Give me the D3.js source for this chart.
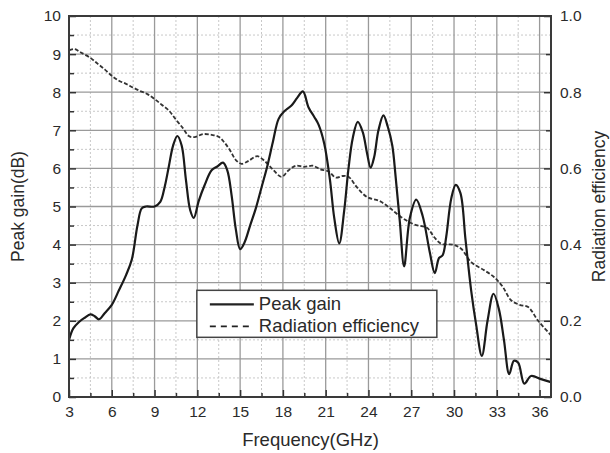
<!DOCTYPE html>
<html>
<head>
<meta charset="utf-8">
<script src="https://cdn.jsdelivr.net/npm/d3@7"></script>
<style>
body{margin:0;background:#fff;}
text{font-family:"Liberation Sans",Arial,sans-serif;fill:#2a2a2a;}
</style>
</head>
<body>
<svg id="chart"></svg>
<script>
// peak gain (dB) vs frequency (GHz)
var gainFreq = [3.0,3.3,3.7,4.1,4.5,4.8,5.1,5.5,6.0,6.5,7.0,7.4,7.8,8.1,8.4,9.0,9.4,9.7,10.0,10.3,10.6,10.9,11.2,11.5,11.75,12.1,12.5,13.0,13.4,13.8,14.1,14.4,14.7,15.0,15.3,15.7,16.1,16.5,16.9,17.3,17.7,18.1,18.6,19.0,19.4,19.8,20.2,20.5,20.9,21.3,21.6,21.95,22.3,22.6,22.9,23.25,23.6,23.9,24.15,24.4,24.7,25.05,25.35,25.67,25.9,26.2,26.5,26.9,27.35,27.8,28.3,28.65,28.95,29.2,29.45,29.8,30.12,30.45,30.8,31.2,31.55,31.95,32.35,32.77,33.15,33.5,33.87,34.2,34.5,34.93,35.4,36.1,36.8];
var gainVals = [1.5,1.8,1.97,2.08,2.17,2.12,2.04,2.2,2.42,2.8,3.2,3.6,4.5,4.95,5.0,5.0,5.12,5.5,6.05,6.6,6.85,6.6,5.7,4.9,4.7,5.15,5.55,5.95,6.05,6.15,5.95,5.3,4.4,3.88,4.05,4.5,4.95,5.5,6.05,6.7,7.3,7.5,7.65,7.85,8.02,7.6,7.35,7.15,6.65,5.7,4.7,4.03,4.9,6.0,6.8,7.22,6.95,6.4,6.02,6.3,7.0,7.39,7.1,6.6,5.8,4.6,3.43,4.7,5.18,4.75,3.8,3.25,3.65,3.72,4.2,5.2,5.57,5.35,4.15,2.8,1.9,1.08,2.0,2.71,2.3,1.5,0.6,0.95,0.9,0.35,0.55,0.47,0.39];

// radiation efficiency vs frequency (GHz)
var effFreq = [3.0,3.4,3.8,4.5,5.0,5.5,6.0,6.5,7.0,7.5,8.0,8.5,9.0,9.5,10.0,10.5,11.0,11.4,11.8,12.4,13.0,13.5,13.9,14.3,14.7,15.1,15.6,16.2,16.7,17.3,17.9,18.4,18.9,19.5,20.1,20.6,21.2,21.7,22.2,22.6,23.2,23.9,24.8,25.5,26.3,27.2,28.1,28.6,29.1,29.9,30.5,31.2,32.1,32.8,33.4,34.0,34.6,35.2,35.9,36.8];
var effVals = [0.91,0.913,0.905,0.89,0.875,0.86,0.843,0.83,0.822,0.812,0.803,0.795,0.782,0.767,0.752,0.728,0.705,0.685,0.682,0.69,0.688,0.683,0.668,0.647,0.622,0.612,0.62,0.632,0.62,0.597,0.578,0.595,0.607,0.604,0.607,0.598,0.592,0.576,0.58,0.578,0.55,0.525,0.514,0.496,0.472,0.453,0.444,0.42,0.402,0.4,0.389,0.354,0.333,0.315,0.29,0.254,0.242,0.236,0.2,0.162];

var xTicks = [3,6,9,12,15,18,21,24,27,30,33,36];
var xMinor = [4.5,7.5,10.5,13.5,16.5,19.5,22.5,25.5,28.5,31.5,34.5];
var yTicks = [0,1,2,3,4,5,6,7,8,9,10];
var yMinor = [0.5,1.5,2.5,3.5,4.5,5.5,6.5,7.5,8.5,9.5];
var y2Ticks = [0,0.2,0.4,0.6,0.8,1.0];
var y2Minor = [0.1,0.3,0.5,0.7,0.9];
var legendNames = ["Peak gain","Radiation efficiency"];

var screen = {width:610, height:453};
var margins = {top:16, bottom:56, left:69, right:59};
var graph = {
    width:screen.width-margins.left-margins.right,
    height:screen.height-margins.top-margins.bottom
};

var svg = d3.select("#chart")
    .attr("width",screen.width)
    .attr("height",screen.height);

var xScale = d3.scaleLinear().domain([3,36.8]).range([0,graph.width]);
var yScale = d3.scaleLinear().domain([0,10]).range([graph.height,0]);
var y2Scale = d3.scaleLinear().domain([0,1]).range([graph.height,0]);

var g = svg.append("g")
    .attr("transform","translate("+margins.left+","+margins.top+")");

// grid
var grid = g.append("g").classed("grid",true);
grid.selectAll(".vminor").data(xMinor).enter().append("line")
    .attr("x1",function(d){return xScale(d);}).attr("x2",function(d){return xScale(d);})
    .attr("y1",0).attr("y2",graph.height)
    .attr("stroke","#c8c8c8").attr("stroke-width",1).attr("stroke-dasharray","2,2");
grid.selectAll(".hminor").data(yMinor).enter().append("line")
    .attr("y1",function(d){return yScale(d);}).attr("y2",function(d){return yScale(d);})
    .attr("x1",0).attr("x2",graph.width)
    .attr("stroke","#c8c8c8").attr("stroke-width",1).attr("stroke-dasharray","2,2");
grid.selectAll(".vmajor").data(xTicks.slice(1)).enter().append("line")
    .attr("x1",function(d){return xScale(d);}).attr("x2",function(d){return xScale(d);})
    .attr("y1",0).attr("y2",graph.height)
    .attr("stroke","#9a9a9a").attr("stroke-width",1.3);
grid.selectAll(".hmajor").data(yTicks.slice(1,10)).enter().append("line")
    .attr("y1",function(d){return yScale(d);}).attr("y2",function(d){return yScale(d);})
    .attr("x1",0).attr("x2",graph.width)
    .attr("stroke","#9a9a9a").attr("stroke-width",1.3);

// curves
var gainData = gainFreq.map(function(f,i){return [f,gainVals[i]];});
var effData = effFreq.map(function(f,i){return [f,effVals[i]];});

var gainLine = d3.line()
    .x(function(d){return xScale(d[0]);})
    .y(function(d){return yScale(d[1]);})
    .curve(d3.curveCatmullRom.alpha(0.5));
var effLine = d3.line()
    .x(function(d){return xScale(d[0]);})
    .y(function(d){return y2Scale(d[1]);})
    .curve(d3.curveCatmullRom.alpha(0.5));

g.append("path").datum(effData)
    .attr("d",effLine).attr("fill","none")
    .attr("stroke","#333").attr("stroke-width",1.8).attr("stroke-dasharray","4,2");
g.append("path").datum(gainData)
    .attr("d",gainLine).attr("fill","none")
    .attr("stroke","#1a1a1a").attr("stroke-width",2.2);

// axes (ticks pointing inward)
var axisStyle = function(sel){
    sel.select(".domain").remove();
    sel.selectAll("line").attr("stroke","#333").attr("stroke-width",1.5);
    sel.selectAll("text").style("font-size","15.5px").attr("fill","#2a2a2a");
};
g.append("g")
    .attr("transform","translate(0,"+graph.height+")")
    .call(d3.axisBottom(xScale).tickValues(xMinor).tickSize(-4).tickFormat(""))
    .call(axisStyle);
g.append("g")
    .attr("transform","translate(0,"+graph.height+")")
    .call(d3.axisBottom(xScale).tickValues(xTicks).tickSize(-7).tickPadding(9).tickFormat(d3.format("d")))
    .call(axisStyle);
g.append("g")
    .call(d3.axisLeft(yScale).tickValues(yMinor).tickSize(-5).tickFormat(""))
    .call(axisStyle);
g.append("g")
    .call(d3.axisLeft(yScale).tickValues(yTicks).tickSize(-7).tickPadding(8).tickFormat(d3.format("d")))
    .call(axisStyle);
g.append("g")
    .attr("transform","translate("+graph.width+",0)")
    .call(d3.axisRight(y2Scale).tickValues(y2Minor).tickSize(-5).tickFormat(""))
    .call(axisStyle);
g.append("g")
    .attr("transform","translate("+graph.width+",0)")
    .call(d3.axisRight(y2Scale).tickValues(y2Ticks).tickSize(-7).tickPadding(9).tickFormat(d3.format(".1f")))
    .call(axisStyle);

// frame
g.append("rect")
    .attr("x",0).attr("y",0)
    .attr("width",graph.width).attr("height",graph.height)
    .attr("fill","none").attr("stroke","#3a3a3a").attr("stroke-width",2);

// legend
var legend = g.append("g")
    .attr("transform","translate("+(xScale(12.0)-0.5)+","+(yScale(2.8))+")");
legend.append("rect")
    .attr("x",0).attr("y",0).attr("width",240).attr("height",47)
    .attr("fill","#fff").attr("stroke","#444").attr("stroke-width",1.5);
legend.selectAll(".item").data(legendNames).enter().append("line")
    .attr("x1",13).attr("x2",57)
    .attr("y1",function(d,i){return 14+i*22;}).attr("y2",function(d,i){return 14+i*22;})
    .attr("stroke","#222").attr("stroke-width",function(d,i){return i==0?2.2:1.8;})
    .attr("stroke-dasharray",function(d,i){return i==0?null:"6,5";});
legend.selectAll(".label").data(legendNames).enter().append("text")
    .text(function(d){return d;})
    .attr("x",62).attr("y",function(d,i){return 20+i*22;})
    .style("font-size","18.5px");

// axis titles
svg.append("text")
    .text("Frequency(GHz)")
    .attr("text-anchor","middle")
    .attr("x",margins.left+graph.width/2+0.5)
    .attr("y",446)
    .style("font-size","18.5px");
svg.append("text")
    .text("Peak gain(dB)")
    .attr("text-anchor","middle")
    .attr("transform","translate(24,"+(margins.top+graph.height/2)+") rotate(-90)")
    .style("font-size","17.5px");
svg.append("text")
    .text("Radiation efficiency")
    .attr("text-anchor","middle")
    .attr("transform","translate(605,"+(margins.top+graph.height/2)+") rotate(-90)")
    .style("font-size","17.5px");
</script>
</body>
</html>
